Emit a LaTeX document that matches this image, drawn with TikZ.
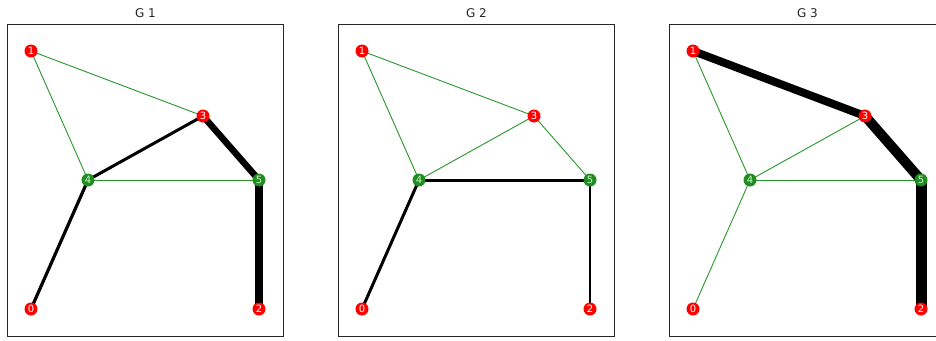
\documentclass[tikz,border=0pt]{standalone}
\usepackage{fontspec}
\setmainfont{DejaVu Sans}
\definecolor{nred}{RGB}{255,0,0}
\definecolor{ngreen}{RGB}{34,139,34}
\definecolor{egreen}{RGB}{40,150,40}
\begin{document}
\begin{tikzpicture}[x=1pt,y=-1pt,
  nodered/.style={circle,fill=nred,inner sep=0pt,minimum size=13pt,text=white,font=\fontsize{10}{10}\selectfont},
  nodegreen/.style={circle,fill=ngreen,inner sep=0pt,minimum size=13pt,text=white!75!green,font=\fontsize{10}{10}\selectfont},
  thin edge/.style={draw=egreen,line width=0.9pt},
  bold edge/.style={draw=black,line width=#1},
  frame/.style={draw=black!85,line width=0.8pt},
  ttl/.style={font=\fontsize{12}{14}\selectfont,text=black!85}]
\useasboundingbox (0,0) rectangle (936,340);
% frames
\draw[frame] (7.5,24.5) rectangle (283.3,336);
\draw[frame] (338.5,24.5) rectangle (614.3,336);
\draw[frame] (945,24.5) -- (669.5,24.5) -- (669.5,336) -- (945,336);
\node[ttl] (t1) at (145.4,13) {G 1};
\node[ttl] (t2) at (476.4,13) {G 2};
\node[ttl] (t3) at (807.4,13) {G 3};
\foreach \p/\dx in {a/0,b/331,c/662}{
  \coordinate (\p0) at (31+\dx,309);
  \coordinate (\p1) at (31+\dx,51);
  \coordinate (\p2) at (259+\dx,309);
  \coordinate (\p3) at (203+\dx,116);
  \coordinate (\p4) at (88+\dx,180);
  \coordinate (\p5) at (259+\dx,180);
}
% G1 edges
\draw[thin edge] (a1) -- (a3);
\draw[thin edge] (a1) -- (a4);
\draw[thin edge] (a4) -- (a5);
\draw[bold edge=3pt] (a4) -- (a3);
\draw[bold edge=6.5pt] (a3) -- (a5);
\draw[bold edge=8pt] (a5) -- (a2);
\draw[bold edge=3.2pt] (a4) -- (a0);
% G2 edges
\draw[thin edge] (b1) -- (b3);
\draw[thin edge] (b1) -- (b4);
\draw[thin edge] (b4) -- (b3);
\draw[thin edge] (b3) -- (b5);
\draw[bold edge=3pt] (b4) -- (b5);
\draw[bold edge=2.8pt] (b5) -- (b2);
\draw[bold edge=3pt] (b4) -- (b0);
% G3 edges
\draw[thin edge] (c1) -- (c4);
\draw[thin edge] (c4) -- (c3);
\draw[thin edge] (c4) -- (c5);
\draw[thin edge] (c4) -- (c0);
\draw[bold edge=8pt] (c1) -- (c3);
\draw[bold edge=10pt] (c3) -- (c5);
\draw[bold edge=11pt] (c5) -- (c2);
% nodes
\foreach \p in {a,b,c}{
  \node[nodered] (\p n0) at (\p0) {0};
  \node[nodered] (\p n1) at (\p1) {1};
  \node[nodered] (\p n2) at (\p2) {2};
  \node[nodered] (\p n3) at (\p3) {3};
  \node[nodegreen] (\p n4) at (\p4) {4};
  \node[nodegreen] (\p n5) at (\p5) {5};
}
\end{tikzpicture}
\end{document}
